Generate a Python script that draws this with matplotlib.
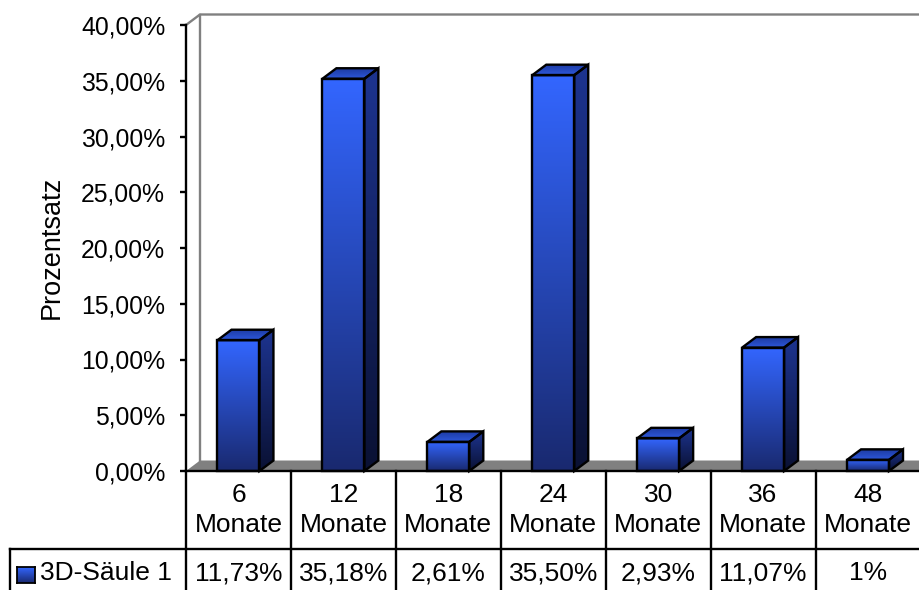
import numpy as np
import matplotlib
matplotlib.use("Agg")
import matplotlib.pyplot as plt
import matplotlib.transforms as mtransforms
from matplotlib.patches import Polygon
from matplotlib.colors import LinearSegmentedColormap
from matplotlib.lines import Line2D
from matplotlib.ticker import FuncFormatter

plt.rcParams["font.family"] = ["Liberation Sans", "DejaVu Sans"]

# ---- data -------------------------------------------------------------
months = ["6", "12", "18", "24", "30", "36", "48"]
unit = "Monate"
shares = [11.73, 35.18, 2.61, 35.50, 2.93, 11.07, 1.0]
series_name = "3D-Säule 1"
y_ticks = [0, 5, 10, 15, 20, 25, 30, 35, 40]
y_label = "Prozentsatz"


def pct(v, decimals=2):
    if float(v).is_integer() and v < 5:
        return f"{int(v)}%"
    return f"{v:.{decimals}f}%".replace(".", ",")


# ---- figure / axes ----------------------------------------------------
W, H = 920, 590
fig = plt.figure(figsize=(W / 100, H / 100), dpi=100)
fig.patch.set_facecolor("white")

left_px, right_px = 186, 920.5
base_px, top_px = 471, 25
ax = fig.add_axes([left_px / W, 1 - base_px / H,
                   (right_px - left_px) / W, (base_px - top_px) / H])
n = len(months)
xlim = (-0.5, n - 0.5)
ylim = (0, 40)

# depth of the 3D box in data units (14 px right, ~10 px up)
dx = 14 / ((right_px - left_px) / n)
dy = 10.5 / ((base_px - top_px) / (ylim[1] - ylim[0]))

LW = 1.7
grey = "#808080"
FS_TICK = 17.8
FS_TAB = 19

# back wall outline
ax.plot([xlim[0], xlim[0] + dx, xlim[0] + dx, xlim[1] + dx + 1],
        [ylim[1], ylim[1] + dy, ylim[1] + dy, ylim[1] + dy],
        color=grey, lw=LW, clip_on=False, zorder=1, solid_capstyle="butt")
ax.plot([xlim[0] + dx, xlim[0] + dx], [dy, ylim[1] + dy],
        color=grey, lw=LW, clip_on=False, zorder=1)

# floor
floor = Polygon([(xlim[0], 0), (xlim[1] + 1, 0), (xlim[1] + 1 + dx, dy),
                 (xlim[0] + dx, dy)], closed=True, facecolor=grey,
                edgecolor="none", clip_on=False, zorder=2)
ax.add_patch(floor)

front_cmap = LinearSegmentedColormap.from_list("front", ["#19296f", "#3366ff"])
side_cmap = LinearSegmentedColormap.from_list("side", ["#0a1133", "#1d3490"])
top_cmap = LinearSegmentedColormap.from_list("top", ["#2e58dc", "#1c3aa0"])
grad = np.linspace(0, 1, 256).reshape(-1, 1)

hw = 0.2
for i, v in enumerate(shares):
    # front face
    ax.imshow(grad, cmap=front_cmap, origin="lower", aspect="auto",
              extent=[i - hw, i + hw, 0, v], zorder=3, interpolation="bilinear")
    # side face
    side = Polygon([(i + hw, 0), (i + hw + dx, dy), (i + hw + dx, v + dy),
                    (i + hw, v)], closed=True, facecolor="none", edgecolor="none")
    ax.add_patch(side)
    im = ax.imshow(grad, cmap=side_cmap, origin="lower", aspect="auto",
                   extent=[i + hw, i + hw + dx, 0, v + dy], zorder=3,
                   interpolation="bilinear")
    im.set_clip_path(side)
    # top face
    top = Polygon([(i - hw, v), (i + hw, v), (i + hw + dx, v + dy),
                   (i - hw + dx, v + dy)], closed=True, facecolor="none",
                  edgecolor="none")
    ax.add_patch(top)
    im = ax.imshow(grad, cmap=top_cmap, origin="lower", aspect="auto",
                   extent=[i - hw, i + hw + dx, v, v + dy], zorder=3,
                   interpolation="bilinear")
    im.set_clip_path(top)
    # outlines
    for pts in ([(i - hw, 0), (i + hw, 0), (i + hw, v), (i - hw, v)],
                [(i + hw, 0), (i + hw + dx, dy), (i + hw + dx, v + dy), (i + hw, v)],
                [(i - hw, v), (i + hw, v), (i + hw + dx, v + dy), (i - hw + dx, v + dy)]):
        ax.add_patch(Polygon(pts, closed=True, facecolor="none",
                             edgecolor="black", lw=LW, joinstyle="miter",
                             zorder=4, clip_on=False))

ax.set_xlim(*xlim)
ax.set_ylim(*ylim)
ax.set_facecolor("none")
for s in ("top", "right", "bottom"):
    ax.spines[s].set_visible(False)
ax.spines["left"].set_linewidth(LW)
ax.spines["left"].set_zorder(5)
ax.set_xticks([])
ax.set_yticks(y_ticks)
ax.yaxis.set_major_formatter(FuncFormatter(lambda v, p: f"{v:.2f}%".replace(".", ",")))
ax.tick_params(axis="y", length=4.5, width=LW, pad=10.5, labelsize=FS_TICK,
               color="black")

fig.text(52 / W, 1 - 247 / H, y_label, rotation=90, ha="center", va="center",
         fontsize=19.5)

# ---- data table -------------------------------------------------------
def fy(py):
    return 1 - py / H


tr = mtransforms.blended_transform_factory(ax.transData, fig.transFigure)
# top rule (front edge of the floor)
fig.add_artist(Line2D(list(xlim), [fy(471)] * 2, transform=tr, color="black",
                      lw=LW, zorder=6))
# row separator
fig.add_artist(Line2D([10 / W, 1.0], [fy(549)] * 2, transform=fig.transFigure,
                      color="black", lw=LW))
fig.add_artist(Line2D([10 / W, 10 / W], [fy(549), fy(600)],
                      transform=fig.transFigure, color="black", lw=LW))
for k in range(n + 1):
    fig.add_artist(Line2D([k - 0.5, k - 0.5], [fy(471), fy(600)], transform=tr,
                          color="black", lw=LW))

for i, (m, v) in enumerate(zip(months, shares)):
    fig.text(i, fy(510), f"{m}\n{unit}", transform=tr, ha="center",
             va="center", fontsize=FS_TAB, linespacing=1.3)
    fig.text(i, fy(573), pct(v), transform=tr, ha="center", va="center",
             fontsize=FS_TAB)

# legend key and series name
key = fig.add_axes([17 / W, fy(583), 18 / W, 16 / H])
key.imshow(grad, cmap=front_cmap, origin="lower", aspect="auto")
key.set_xticks([])
key.set_yticks([])
for s in key.spines.values():
    s.set_linewidth(1.3)
fig.text(40 / W, fy(573), series_name, ha="left", va="center", fontsize=FS_TAB)

fig.savefig("out.png", dpi=100)
